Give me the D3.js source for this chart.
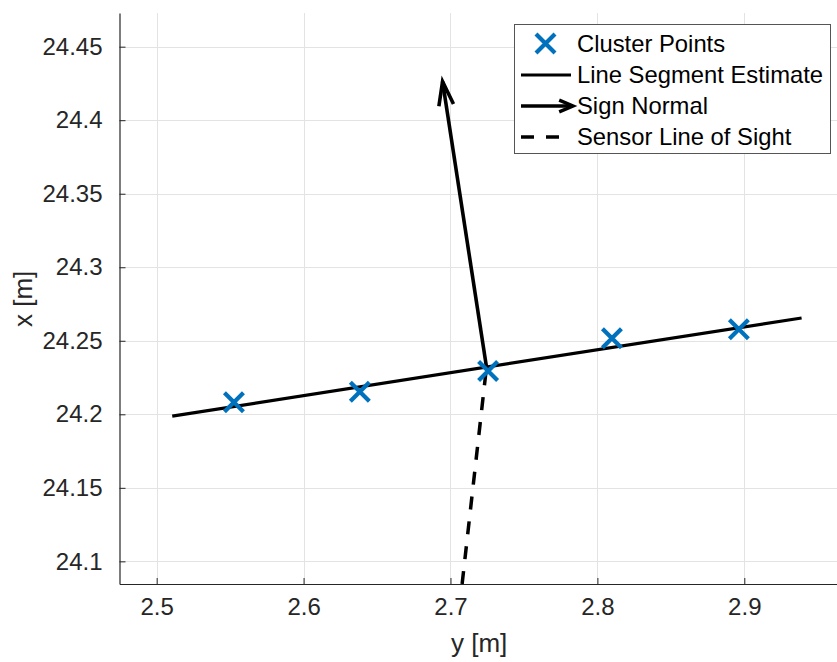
<!DOCTYPE html>
<html>
<head>
<meta charset="utf-8">
<script src="https://cdn.jsdelivr.net/npm/d3@7"></script>
<style>
  html, body { margin: 0; padding: 0; background: #fff; }
  svg { display: block; font-family: "Liberation Sans", Arial, Helvetica, sans-serif; }
</style>
</head>
<body>
<svg id="chart" width="837" height="662"></svg>
<script>
// Cluster points (horizontal: y [m], vertical: x [m])
const clusterY = [2.5526, 2.6383, 2.7256, 2.8099, 2.8963];
const clusterX = [24.2082, 24.2154, 24.2295, 24.2517, 24.2578];

// Fitted line segment endpoints
const segmentY = [2.5106, 2.9390];
const segmentX = [24.1988, 24.2655];

// Sign normal: base on the segment, tip of the arrow
const normalY = [2.7245, 2.6946];
const normalX = [24.2321, 24.4263];

// Sensor at the origin, looking at the normal's base point
const sensorY = [0, 2.7245];
const sensorX = [0, 24.2321];

// Axis limits and ticks
const yLimits = [2.4747, 2.9631];
const xLimits = [24.0846, 24.4729];
const yTicks = [2.5, 2.6, 2.7, 2.8, 2.9];
const xTicks = [24.1, 24.15, 24.2, 24.25, 24.3, 24.35, 24.4, 24.45];

const legendLabels = ["Cluster Points", "Line Segment Estimate", "Sign Normal", "Sensor Line of Sight"];

const plot = { left: 119.5, right: 837, top: 13, bottom: 584 };
const axisColor = "#262626";
const blue = "#0072BD";

const svg = d3.select("#chart");
const sx = d3.scaleLinear().domain(yLimits).range([plot.left, plot.right]);
const sy = d3.scaleLinear().domain(xLimits).range([plot.bottom, plot.top]);

svg.append("defs").append("clipPath").attr("id", "plotClip")
  .append("rect")
  .attr("x", plot.left).attr("y", plot.top)
  .attr("width", plot.right - plot.left).attr("height", plot.bottom - plot.top);

// Grid
const grid = svg.append("g").attr("stroke", "#e3e3e3").attr("stroke-width", 1);
grid.selectAll("line.v").data(yTicks).join("line")
  .attr("x1", d => Math.round(sx(d)) + 0.5).attr("x2", d => Math.round(sx(d)) + 0.5)
  .attr("y1", plot.top).attr("y2", plot.bottom);
grid.selectAll("line.h").data(xTicks).join("line")
  .attr("y1", d => Math.round(sy(d)) + 0.5).attr("y2", d => Math.round(sy(d)) + 0.5)
  .attr("x1", plot.left).attr("x2", plot.right);

// Axes with inward ticks
const xAxis = d3.axisBottom(sx).tickValues(yTicks).tickSizeInner(-6).tickSizeOuter(0)
  .tickPadding(14).tickFormat(d3.format(".1f"));
const gx = svg.append("g").attr("transform", `translate(0,${plot.bottom})`).call(xAxis);

const yAxis = d3.axisLeft(sy).tickValues(xTicks).tickSizeInner(-6).tickSizeOuter(0)
  .tickPadding(17).tickFormat(d => String(+d.toFixed(2)));
const gy = svg.append("g").attr("transform", `translate(${plot.left},0)`).call(yAxis);

[gx, gy].forEach(g => {
  g.select(".domain").attr("stroke", axisColor).attr("stroke-width", 1.2);
  g.selectAll(".tick line").attr("stroke", axisColor).attr("stroke-width", 1);
  g.selectAll(".tick text").attr("fill", axisColor).attr("font-size", 24)
    .attr("font-family", "'Liberation Sans', Arial, sans-serif");
});
gx.selectAll(".tick text").attr("dy", "0.71em");

// Axis titles
svg.append("text").attr("x", sx(2.7195)).attr("y", 652)
  .attr("text-anchor", "middle").attr("font-size", 26).attr("fill", axisColor)
  .text("y [m]");
svg.append("text").attr("transform", `translate(32,${sy(24.2785)}) rotate(-90)`)
  .attr("text-anchor", "middle").attr("font-size", 26).attr("fill", axisColor)
  .text("x [m]");

const layer = svg.append("g").attr("clip-path", "url(#plotClip)");
const line = d3.line().x(d => sx(d[0])).y(d => sy(d[1]));

// Line of sight: start where it enters the axes so the dash pattern begins at the bottom edge
const t0 = (xLimits[0] - sensorX[0]) / (sensorX[1] - sensorX[0]);
const losStart = [sensorY[0] + t0 * (sensorY[1] - sensorY[0]), xLimits[0]];
layer.append("path")
  .attr("d", line([losStart, [sensorY[1], sensorX[1]]]))
  .attr("fill", "none").attr("stroke", "#000").attr("stroke-width", 3.5)
  .attr("stroke-dasharray", "13,12");

// Segment estimate
layer.append("path")
  .attr("d", line(segmentY.map((v, i) => [v, segmentX[i]])))
  .attr("fill", "none").attr("stroke", "#000").attr("stroke-width", 3.2);

// Arrow helper (shaft + two barbs)
function arrow(g, x1, y1, x2, y2, headLen, headAngle, width) {
  const a = Math.atan2(y2 - y1, x2 - x1);
  g.append("line").attr("x1", x1).attr("y1", y1).attr("x2", x2).attr("y2", y2)
    .attr("stroke", "#000").attr("stroke-width", width);
  const p1 = [x2 - headLen * Math.cos(a - headAngle), y2 - headLen * Math.sin(a - headAngle)];
  const p2 = [x2 - headLen * Math.cos(a + headAngle), y2 - headLen * Math.sin(a + headAngle)];
  g.append("path").attr("d", `M${p1[0]},${p1[1]}L${x2},${y2}L${p2[0]},${p2[1]}`)
    .attr("fill", "none").attr("stroke", "#000").attr("stroke-width", width)
    .attr("stroke-linejoin", "miter").attr("stroke-miterlimit", 10);
}
arrow(layer, sx(normalY[0]), sy(normalX[0]), sx(normalY[1]), sy(normalX[1]), 25, 0.3, 3.6);

// Cluster markers
function cross(g, cx, cy, r) {
  g.append("path").attr("d", `M${cx - r},${cy - r}L${cx + r},${cy + r}M${cx - r},${cy + r}L${cx + r},${cy - r}`)
    .attr("stroke", blue).attr("stroke-width", 4.2).attr("fill", "none");
}
clusterY.forEach((v, i) => cross(layer, sx(v), sy(clusterX[i]), 9.5));

// Legend
const lg = svg.append("g");
lg.append("rect").attr("x", 514.5).attr("y", 24.5).attr("width", 316).attr("height", 129)
  .attr("fill", "#fff").attr("stroke", "#555").attr("stroke-width", 1);
const rowY = [43.5, 75, 106, 137];
const sampleX0 = 521, sampleX1 = 571, textX = 577;
legendLabels.forEach((lab, i) => {
  lg.append("text").attr("x", textX).attr("y", rowY[i]).attr("dy", "0.35em")
    .attr("font-size", 23.8).attr("fill", "#000").text(lab);
});
cross(lg, 545.5, rowY[0], 9.5);
lg.append("line").attr("x1", sampleX0).attr("x2", sampleX1).attr("y1", rowY[1]).attr("y2", rowY[1])
  .attr("stroke", "#000").attr("stroke-width", 3.2);
arrow(lg, sampleX0, rowY[2], 573, rowY[2], 15, 0.4, 3.4);
lg.append("line").attr("x1", sampleX0).attr("x2", 560).attr("y1", rowY[3]).attr("y2", rowY[3])
  .attr("stroke", "#000").attr("stroke-width", 3.5).attr("stroke-dasharray", "13,12");
</script>
</body>
</html>
